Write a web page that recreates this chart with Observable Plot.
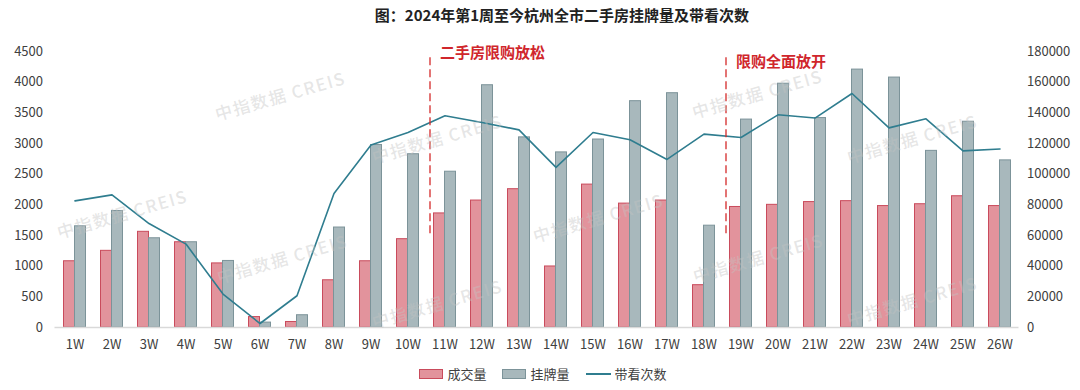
<!DOCTYPE html>
<html><head><meta charset="utf-8">
<script src="https://cdn.jsdelivr.net/npm/d3@7"></script>
<script src="https://cdn.jsdelivr.net/npm/@observablehq/plot@0.6"></script>
<style>
body{margin:0;background:#fff;font-family:"Noto Sans CJK SC","Noto Sans",sans-serif;}
#wrap{position:relative;width:1080px;height:390px;overflow:hidden;background:#fff}
#title{position:absolute;left:0;top:4px;width:1124px;text-align:center;font-weight:bold;font-size:15px;color:#222;line-height:22px}
#chart{position:absolute;left:0;top:30px}
#legend{position:absolute;left:0;top:364px;width:1086px;display:flex;justify-content:center;align-items:center;font-size:13px;color:#404040;line-height:20px}
.item{display:flex;align-items:center;margin:0 8px}
.sw{display:inline-block;width:22px;height:8px;margin-right:4px}
.ln{display:inline-block;width:25px;height:0;border-top:2px solid #2f7d8f;margin-right:4px}
.wm{position:absolute;color:rgba(195,195,195,0.42);font-size:17px;font-weight:500;letter-spacing:1.5px;transform:translate(-50%,-50%) rotate(-16deg);white-space:nowrap;pointer-events:none}
</style></head>
<body>
<div id="wrap">
  <div id="title">图：2024年第1周至今杭州全市二手房挂牌量及带看次数</div>
  <div id="chart"></div>
  <div id="legend">
    <div class="item"><span class="sw" style="background:#e2939c;border:1px solid #c94b5c"></span>成交量</div>
    <div class="item"><span class="sw" style="background:#a8b8bc;border:1px solid #7c9399"></span>挂牌量</div>
    <div class="item"><span class="ln"></span>带看次数</div>
  </div>
</div>
<script>
const weeks = ["1W","2W","3W","4W","5W","6W","7W","8W","9W","10W","11W","12W","13W","14W","15W","16W","17W","18W","19W","20W","21W","22W","23W","24W","25W","26W"];
const deals = [1080,1250,1560,1390,1045,170,90,770,1080,1440,1860,2070,2255,995,2330,2020,2070,690,1965,2000,2045,2060,1980,2010,2140,1980];
const listings = [1650,1900,1455,1390,1085,80,200,1630,2975,2825,2540,3950,3100,2855,3065,3690,3820,1660,3390,3975,3415,4205,4075,2880,3355,2725];
const viewings = [82600,86500,67800,54400,21800,2600,20700,87400,119000,127200,138100,133700,128900,104400,127200,122400,109600,126100,123900,138700,136600,152600,130200,136100,115200,116400];
const leftTicks = [0,500,1000,1500,2000,2500,3000,3500,4000,4500];
const rightTicks = [0,20000,40000,60000,80000,100000,120000,140000,160000,180000];
const annoWeeks = ["11W","19W"];
const annoLabels = ["二手房限购放松","限购全面放开"];
const annoLabelY = [4465,4320];
const annoTop = [4400,4400];
const annoBottom = [1470,1470];

const ratio = rightTicks[rightTicks.length-1] / leftTicks[leftTicks.length-1];
const rows = weeks.map((w,i)=>({week:w, deals:deals[i], listings:listings[i], viewings:viewings[i]}));
const annos = annoWeeks.map((w,i)=>({week:w, label:annoLabels[i], ly:annoLabelY[i], top:annoTop[i], bottom:annoBottom[i]}));
const font = '"Noto Sans CJK SC","Noto Sans",sans-serif';

const chart = Plot.plot({
  width:1080, height:330,
  marginTop:21, marginBottom:33, marginLeft:54.5, marginRight:61.5,
  x:{type:"band", domain:weeks, padding:0, label:null},
  y:{domain:[0,4500], label:null},
  style:{fontFamily:font, fontSize:"13px", color:"#404040", background:"transparent"},
  marks:[
    Plot.barY(rows, {x:"week", y:"deals", fill:"#e2939c", stroke:"#c94b5c", strokeWidth:1, insetLeft:7.5, insetRight:18.5}),
    Plot.barY(rows, {x:"week", y:"listings", fill:"#a8b8bc", stroke:"#7c9399", strokeWidth:1, insetLeft:18.5, insetRight:7.5}),
    Plot.ruleY([0], {stroke:"#d9d9d9", strokeWidth:1.5}),
    Plot.line(rows, {x:"week", y:d=>d.viewings/ratio, stroke:"#2f7d8f", strokeWidth:1.6}),
    Plot.ruleX(annos, {x:"week", y1:"top", y2:"bottom", dx:-15, stroke:"#d42a2a", strokeWidth:1.3, strokeDasharray:"8,4"}),
    Plot.text(annos, {x:"week", y:"ly", text:"label", dx:-5, textAnchor:"start", fill:"#d0262c", fontWeight:"bold", fontSize:15}),
    Plot.axisX({tickSize:0, tickPadding:12, fontSize:13, label:null}),
    Plot.axisY(leftTicks, {anchor:"left", tickSize:0, tickPadding:12, tickFormat:d=>String(d), label:null}),
    Plot.axisY(rightTicks.map(v=>v/ratio), {anchor:"right", tickSize:0, tickPadding:8, tickFormat:d=>String(Math.round(d*ratio)), label:null})
  ]
});
document.getElementById("chart").appendChild(chart);

// faint watermarks (decoration)
const wmPos = [[280,95],[122,213],[282,258],[437,138],[437,303],[598,217],[757,93],[758,257],[912,138],[912,300]];
const wrap = document.getElementById("wrap");
wmPos.forEach(([x,y])=>{
  const d = document.createElement("div");
  d.className = "wm";
  d.style.left = x+"px"; d.style.top = y+"px";
  d.textContent = "中指数据 CREIS";
  wrap.appendChild(d);
});
</script>
</body></html>
